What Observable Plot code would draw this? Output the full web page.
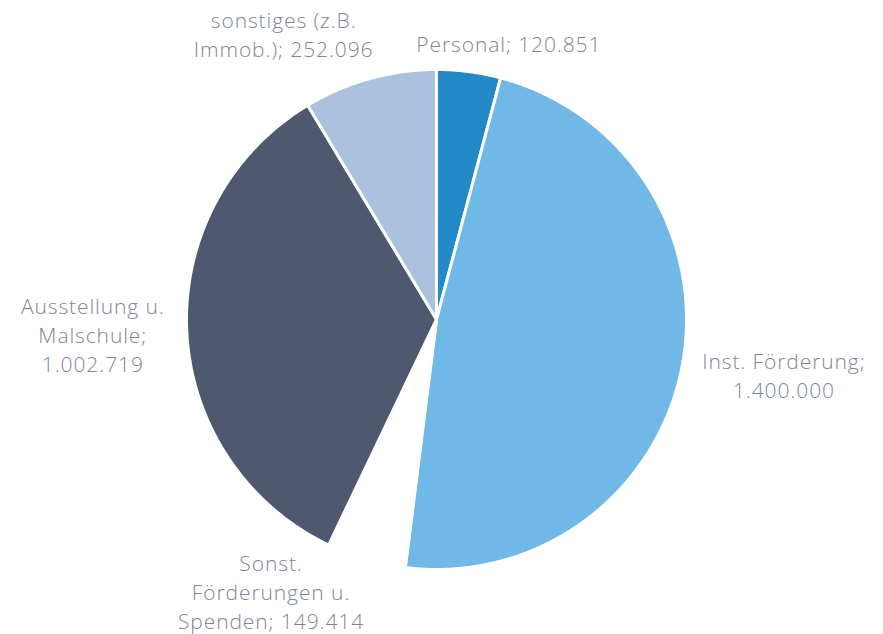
<!DOCTYPE html>
<html><head><meta charset="utf-8">
<script src="https://cdn.jsdelivr.net/npm/d3@7"></script>
<script src="https://cdn.jsdelivr.net/npm/@observablehq/plot@0.6"></script>
<style>body{margin:0;background:#fff}</style>
</head><body><div id="chart"></div>
<script>
const categories = ["Personal", "Inst. Förderung", "Sonst. Förderungen u. Spenden", "Ausstellung u. Malschule", "sonstiges (z.B. Immob.)"];
const values = [120851, 1400000, 149414, 1002719, 252096];
const labels = ["Personal; 120.851", "Inst. Förderung;\n1.400.000", "Sonst.\nFörderungen u.\nSpenden; 149.414", "Ausstellung u.\nMalschule;\n1.002.719", "sonstiges (z.B.\nImmob.); 252.096"];
const colors = ["#2389c7", "#70b9e6", "#ffffff", "#4e586f", "#abc2de"];

// layout (pixels)
const W = 883, H = 634, R = 250, CX = 436, CY = 319;
const labelOffsets = {
  "Personal": [40, -29],
  "Inst. Förderung": [102, 7],
  "Sonst. Förderungen u. Spenden": [-95, 31],
  "Ausstellung u. Malschule": [-94, 2],
  "sonstiges (z.B. Immob.)": [-86, -45]
};

const rows = categories.map((c, i) => ({cat: c, value: values[i], label: labels[i]}));
const arcs = d3.pie().sort(null).value(d => d.value)(rows);

const pts = [];
for (const a of arcs) {
  pts.push({cat: a.data.cat, x: 0, y: 0});
  const n = Math.max(2, Math.ceil((a.endAngle - a.startAngle) / 0.005));
  for (let k = 0; k <= n; k++) {
    const t = a.startAngle + (a.endAngle - a.startAngle) * k / n;
    pts.push({cat: a.data.cat, x: Math.sin(t), y: Math.cos(t)});
  }
}
const mids = arcs.map(a => {
  const t = (a.startAngle + a.endAngle) / 2;
  return {cat: a.data.cat, label: a.data.label, x: Math.sin(t), y: Math.cos(t)};
});

const textMarks = mids.map(m => Plot.text([m], {
  x: "x", y: "y", text: "label",
  dx: labelOffsets[m.cat][0], dy: labelOffsets[m.cat][1],
  textAnchor: "middle", lineAnchor: "middle", lineHeight: 1.38,
  fill: "#7d8699", fontSize: 21, fontWeight: 300
}));

const chart = Plot.plot({
  width: W, height: H,
  marginTop: 0, marginRight: 0, marginBottom: 0, marginLeft: 0,
  x: {domain: [-CX / R, (W - CX) / R], range: [0, W], axis: null},
  y: {domain: [(CY - H) / R, CY / R], range: [H, 0], axis: null},
  color: {domain: categories, range: colors},
  style: {fontFamily: "'Open Sans', sans-serif", background: "#fff", letterSpacing: "0.9px"},
  marks: [
    Plot.line(pts, {x: "x", y: "y", z: "cat", fill: "cat", stroke: "#fff", strokeWidth: 3, curve: "linear-closed", strokeLinejoin: "round"}),
    ...textMarks
  ]
});
document.getElementById("chart").appendChild(chart);
</script>
</body></html>
